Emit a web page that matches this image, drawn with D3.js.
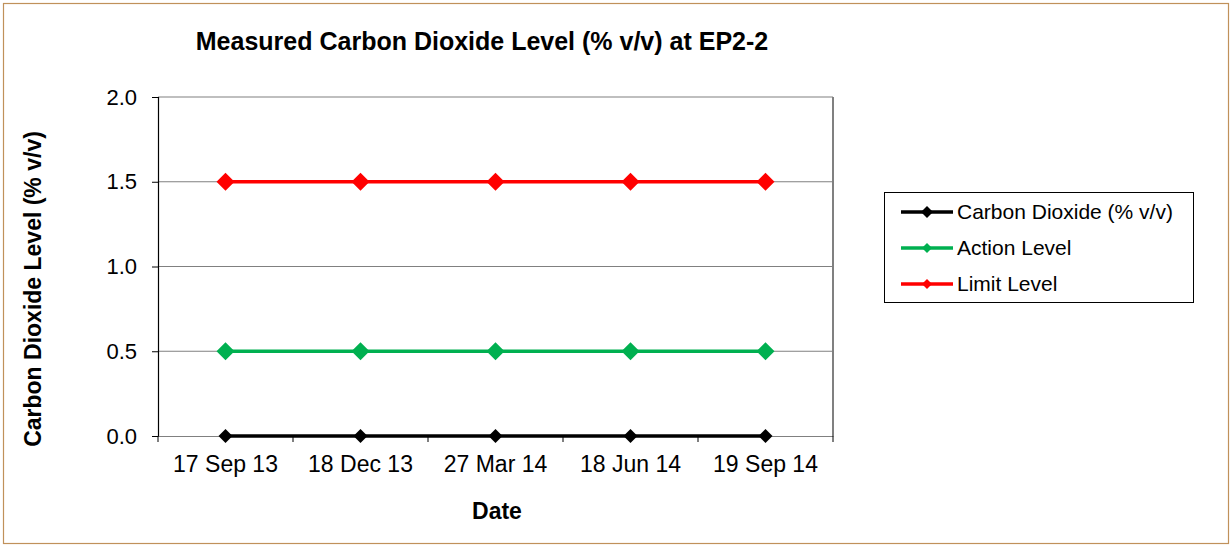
<!DOCTYPE html>
<html><head><meta charset="utf-8">
<script src="https://cdn.jsdelivr.net/npm/d3@7"></script>
<style>body{margin:0;background:#fff}svg{display:block;font-family:"Liberation Sans",Arial,sans-serif}</style>
</head><body>
<svg id="c" width="1232" height="546"></svg>
<script>
const categories = ["17 Sep 13","18 Dec 13","27 Mar 14","18 Jun 14","19 Sep 14"];
const co2Values = [0,0,0,0,0];
const actionValues = [0.5,0.5,0.5,0.5,0.5];
const limitValues = [1.5,1.5,1.5,1.5,1.5];
const yTicks = [0,0.5,1.0,1.5,2.0];
const seriesNames = ["Carbon Dioxide (% v/v)","Action Level","Limit Level"];
const seriesColors = ["#000000","#00b050","#ff0000"];

const svg = d3.select("#c");
svg.append("rect").attr("x",3.5).attr("y",3.5).attr("width",1225).attr("height",540)
  .attr("fill","#fff").attr("stroke","#c0915a").attr("stroke-width",1.2);

const L=158,R=833,T=97,B=436;
const x = d3.scaleBand().domain(categories).range([L,R]);
const y = d3.scaleLinear().domain([0,2]).range([B,T]);

// gridlines
svg.append("g").selectAll("line").data(yTicks.filter(d=>d>0)).join("line")
  .attr("x1",L).attr("x2",R).attr("y1",d=>y(d)).attr("y2",d=>y(d))
  .attr("stroke","#808080").attr("stroke-width",1.2);
svg.append("line").attr("x1",R).attr("x2",R).attr("y1",T).attr("y2",B).attr("stroke","#808080").attr("stroke-width",2);

// y axis
const ya = svg.append("g").attr("transform",`translate(${L},0)`)
  .call(d3.axisLeft(y).tickValues(yTicks).tickFormat(d3.format(".1f")).tickSize(6).tickPadding(15));
ya.select(".domain").attr("stroke","#000").attr("stroke-width",1.2);
ya.selectAll(".tick line").attr("stroke","#000");
ya.selectAll("text").attr("font-size",22).attr("fill","#000").attr("font-family","Liberation Sans, Arial, sans-serif");

// x axis
const xa = svg.append("g").attr("transform",`translate(0,${B})`)
  .call(d3.axisBottom(x).tickSize(0).tickPadding(20));
xa.select(".domain").attr("stroke","#808080").attr("stroke-width",1.2);
xa.selectAll("text").attr("font-size",23).attr("fill","#000").attr("font-family","Liberation Sans, Arial, sans-serif");
svg.append("g").selectAll("line").data(d3.range(categories.length+1)).join("line")
  .attr("x1",i=>L+i*x.step()).attr("x2",i=>L+i*x.step()).attr("y1",B).attr("y2",B+6)
  .attr("stroke","#000");

const allSeries = [co2Values,actionValues,limitValues];
const line = d3.line().x((d,i)=>x(categories[i])+x.bandwidth()/2).y(d=>y(d));
const diamond = (cx,cy,r)=>`M${cx},${cy-r}L${cx+r},${cy}L${cx},${cy+r}L${cx-r},${cy}Z`;
const sizes=[7,9,9];
[1,2,0].forEach(si=>{
  const vals=allSeries[si];
  svg.append("path").datum(vals).attr("d",line).attr("fill","none")
    .attr("stroke",seriesColors[si]).attr("stroke-width",3.5);
  svg.append("g").selectAll("path").data(vals).join("path")
    .attr("d",(d,i)=>diamond(x(categories[i])+x.bandwidth()/2,y(d),sizes[si]))
    .attr("fill",seriesColors[si]);
});

// titles
svg.append("text").attr("x",482).attr("y",50).attr("text-anchor","middle")
  .attr("font-size",25).attr("font-weight","bold").text("Measured Carbon Dioxide Level (% v/v) at EP2-2");
svg.append("text").attr("transform","translate(41,289) rotate(-90)").attr("text-anchor","middle")
  .attr("font-size",23).attr("font-weight","bold").text("Carbon Dioxide Level (% v/v)");
svg.append("text").attr("x",497).attr("y",519).attr("text-anchor","middle")
  .attr("font-size",23).attr("font-weight","bold").text("Date");

// legend
const lg = svg.append("g");
lg.append("rect").attr("x",884.5).attr("y",192.5).attr("width",309).attr("height",110)
  .attr("fill","#fff").attr("stroke","#000").attr("stroke-width",1);
seriesNames.forEach((n,i)=>{
  const cy=212+i*36;
  lg.append("line").attr("x1",901).attr("x2",953).attr("y1",cy).attr("y2",cy)
    .attr("stroke",seriesColors[i]).attr("stroke-width",3.5);
  lg.append("path").attr("d",diamond(927,cy,i===0?6:5)).attr("fill",seriesColors[i]);
  lg.append("text").attr("x",957).attr("y",cy+7).attr("font-size",21).text(n);
});
</script>
</body></html>
